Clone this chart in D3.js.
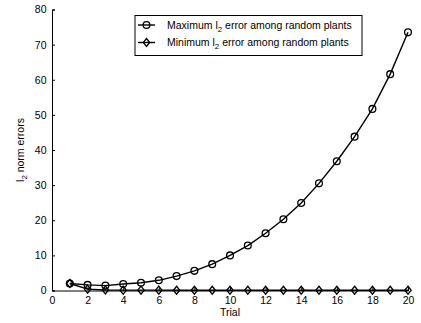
<!DOCTYPE html>
<html>
<head>
<meta charset="utf-8">
<script src="https://cdn.jsdelivr.net/npm/d3@7"></script>
<style>
  html, body { margin: 0; padding: 0; background: #fff; }
  svg text { font-family: "Liberation Sans", Arial, Helvetica, sans-serif; fill: #000; }
</style>
</head>
<body>
<svg id="chart" width="421" height="323"></svg>
<script>
// Trial index on the x axis
const trials = [1, 2, 3, 4, 5, 6, 7, 8, 9, 10, 11, 12, 13, 14, 15, 16, 17, 18, 19, 20];
// Largest l2 error among the random plants at each trial
const maxErr = [2.0, 1.6, 1.4, 1.85, 2.2, 2.9, 4.1, 5.6, 7.5, 10.0, 12.8, 16.3, 20.3, 24.9, 30.5, 36.8, 43.8, 51.7, 61.6, 73.5];
// Smallest l2 error among the random plants at each trial
const minErr = [2.0, 0.4, 0.15, 0.1, 0.1, 0.1, 0.08, 0.08, 0.08, 0.08, 0.08, 0.08, 0.08, 0.08, 0.08, 0.08, 0.08, 0.08, 0.08, 0.08];
const xTicks = [0, 2, 4, 6, 8, 10, 12, 14, 16, 18, 20];
const yTicks = [0, 10, 20, 30, 40, 50, 60, 70, 80];

const svg = d3.select("#chart");
const fs = 10.5;

const x = d3.scaleLinear().domain([0, 20]).range([52, 408]);
const y = d3.scaleLinear().domain([0, 80]).range([290.5, 9.5]);

// Axes (ticks drawn inward, no box)
const xAxis = d3.axisBottom(x).tickValues(xTicks).tickSize(-3).tickPadding(6).tickFormat(d3.format("d"));
const yAxis = d3.axisLeft(y).tickValues(yTicks).tickSize(-3).tickPadding(6).tickFormat(d3.format("d"));

const gx = svg.append("g").attr("transform", `translate(0,${y(0)})`).call(xAxis);
const gy = svg.append("g").attr("transform", `translate(${x(0)},0)`).call(yAxis);
[gx, gy].forEach(g => {
  g.select(".domain").attr("stroke", "#000").attr("stroke-width", 1);
  g.selectAll(".tick line").attr("stroke", "#000");
  g.selectAll(".tick text").attr("font-size", fs).attr("fill", "#000")
    .style("font-family", "'Liberation Sans', Arial, sans-serif");
});
gy.selectAll(".tick text").attr("dx", "0.5");

// Axis titles
svg.append("text")
  .attr("x", x(10)).attr("y", 316)
  .attr("text-anchor", "middle").attr("font-size", fs)
  .text("Trial");

const yl = svg.append("text")
  .attr("transform", `translate(24,${(y(0) + y(80)) / 2}) rotate(-90)`)
  .attr("text-anchor", "middle").attr("font-size", fs);
yl.append("tspan").text("l");
yl.append("tspan").attr("font-size", fs * 0.75).attr("dy", 3).text("2");
yl.append("tspan").attr("dy", -3).text(" norm errors");

// Series
const series = [
  { name: "Maximum", values: maxErr, marker: "circle" },
  { name: "Minimum", values: minErr, marker: "diamond" }
];

const line = d3.line().x((d, i) => x(trials[i])).y(d => y(d));
const diamondPath = (cx, cy) => `M${cx},${cy - 4}L${cx + 3.2},${cy}L${cx},${cy + 4}L${cx - 3.2},${cy}Z`;

function drawMarker(g, type, cx, cy) {
  if (type === "circle") {
    g.append("circle").attr("cx", cx).attr("cy", cy).attr("r", 3.4)
      .attr("fill", "none").attr("stroke", "#000").attr("stroke-width", 1.3);
  } else {
    g.append("path").attr("d", diamondPath(cx, cy))
      .attr("fill", "none").attr("stroke", "#000").attr("stroke-width", 1.3);
  }
}

series.forEach(s => {
  const g = svg.append("g");
  g.append("path").datum(s.values).attr("d", line)
    .attr("fill", "none").attr("stroke", "#000").attr("stroke-width", 1.4);
  s.values.forEach((v, i) => drawMarker(g, s.marker, x(trials[i]), y(v)));
});

// Legend
const lg = svg.append("g");
lg.append("rect").attr("x", 135).attr("y", 15.5).attr("width", 227).attr("height", 40)
  .attr("fill", "#fff").attr("stroke", "#000").attr("stroke-width", 1);
const rows = [
  { label: "Maximum", marker: "circle", cy: 25 },
  { label: "Minimum", marker: "diamond", cy: 42.5 }
];
rows.forEach(r => {
  lg.append("line").attr("x1", 138).attr("x2", 155).attr("y1", r.cy).attr("y2", r.cy)
    .attr("stroke", "#000").attr("stroke-width", 1.4);
  drawMarker(lg, r.marker, 146.5, r.cy);
  const t = lg.append("text").attr("x", 167).attr("y", r.cy + 3.5).attr("font-size", fs);
  t.append("tspan").text(r.label + " l");
  t.append("tspan").attr("font-size", fs * 0.75).attr("dy", 3).text("2");
  t.append("tspan").attr("dy", -3).text(" error among random plants");
});
</script>
</body>
</html>
